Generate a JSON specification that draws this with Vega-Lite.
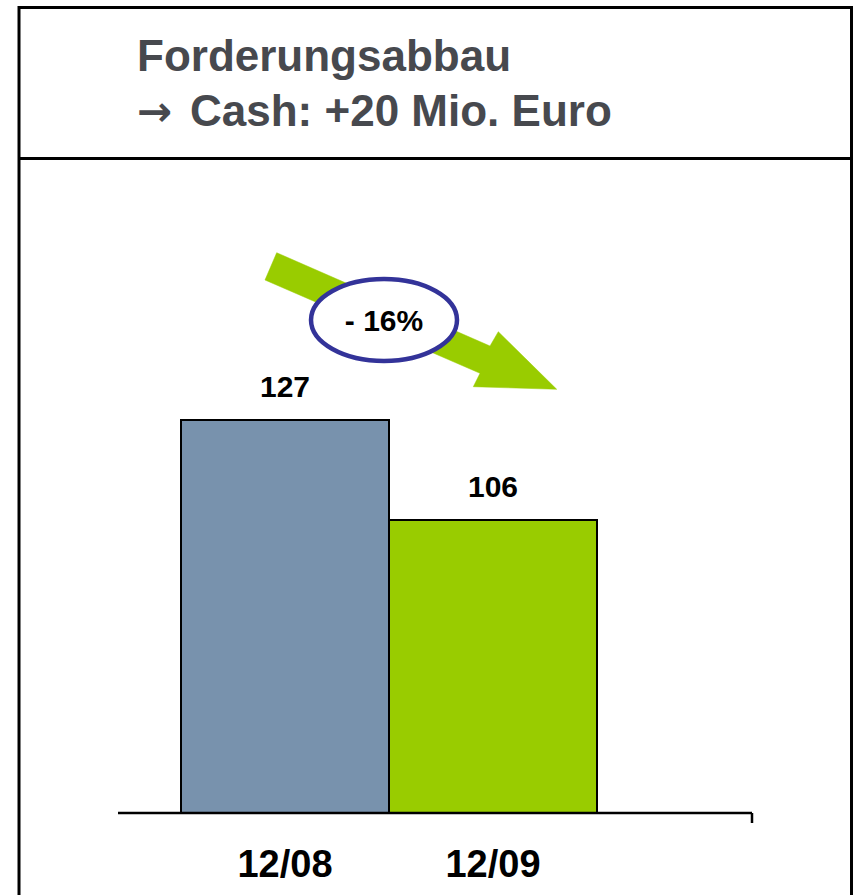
{
  "$schema": "https://vega.github.io/schema/vega-lite/v6.json",
  "width": 856,
  "height": 895,
  "padding": 0,
  "autosize": {"type": "none"},
  "background": "white",
  "config": {"view": {"stroke": null}},
  "layer": [
    {
      "data": {"values": [{}]},
      "mark": {"type": "rect", "fill": "transparent", "stroke": "#000000", "strokeWidth": 3},
      "encoding": {
        "x": {"datum": -0.2788, "type": "quantitative", "scale": {"domain": [-0.3702, 3.7452], "nice": false, "zero": false, "padding": 0}, "axis": null},
        "x2": {"datum": 3.7236},
        "y": {"datum": 213.63, "type": "quantitative", "scale": {"domain": [27.25, 215.2], "nice": false, "zero": false, "padding": 0}, "axis": null},
        "y2": {"datum": 10}
      }
    },
    {
      "data": {"values": [{}]},
      "mark": {"type": "rule", "stroke": "#000000", "strokeWidth": 3},
      "encoding": {
        "x": {"datum": -0.2788, "type": "quantitative"},
        "x2": {"datum": 3.7236},
        "y": {"datum": 181.92, "type": "quantitative"}
      }
    },
    {
      "data": {"values": [{}]},
      "mark": {"type": "text", "text": "Forderungsabbau", "align": "left", "baseline": "alphabetic", "font": "Liberation Sans", "fontWeight": "bold", "fontSize": 44, "color": "#47494e"},
      "encoding": {
        "x": {"datum": 0.2885, "type": "quantitative"},
        "y": {"datum": 200.3, "type": "quantitative"}
      }
    },
    {
      "data": {"values": [{}]},
      "mark": {"type": "text", "text": "→", "align": "left", "baseline": "alphabetic", "font": "DejaVu Sans", "fontWeight": "bold", "fontSize": 42, "color": "#47494e"},
      "encoding": {
        "x": {"datum": 0.2885, "type": "quantitative"},
        "y": {"datum": 188.7, "type": "quantitative"}
      }
    },
    {
      "data": {"values": [{}]},
      "mark": {"type": "text", "text": "Cash: +20 Mio. Euro", "align": "left", "baseline": "alphabetic", "font": "Liberation Sans", "fontWeight": "bold", "fontSize": 44, "color": "#47494e"},
      "encoding": {
        "x": {"datum": 0.5433, "type": "quantitative"},
        "y": {"datum": 188.7, "type": "quantitative"}
      }
    },
    {
      "data": {"values": [
        {"i": 1, "u": 0.9601, "v": 162.13},
        {"i": 2, "u": 1.9856, "v": 142.54},
        {"i": 3, "u": 2.0255, "v": 145.54},
        {"i": 4, "u": 2.3063, "v": 133.45},
        {"i": 5, "u": 1.9053, "v": 133.99},
        {"i": 6, "u": 1.9375, "v": 136.81},
        {"i": 7, "u": 0.9038, "v": 156.40}
      ]},
      "mark": {"type": "line", "interpolate": "linear-closed", "fill": "#99cc00", "stroke": "#99cc00", "strokeWidth": 0.5},
      "encoding": {
        "x": {"field": "u", "type": "quantitative"},
        "y": {"field": "v", "type": "quantitative"},
        "order": {"field": "i", "type": "quantitative"}
      }
    },
    {
      "data": {"values": [{"label": "- 16%"}]},
      "mark": {"type": "point", "shape": "M -1 0 A 1 0.5616 0 1 0 1 0 A 1 0.5616 0 1 0 -1 0 Z", "size": 21316, "filled": true, "fill": "#ffffff", "fillOpacity": 1, "opacity": 1, "stroke": "#333399", "strokeWidth": 4.5},
      "encoding": {
        "x": {"datum": 1.476, "type": "quantitative"},
        "y": {"datum": 148.0, "type": "quantitative"}
      }
    },
    {
      "data": {"values": [{"label": "- 16%"}]},
      "mark": {"type": "text", "align": "center", "baseline": "middle", "dy": 2, "font": "Liberation Sans", "fontWeight": "bold", "fontSize": 30, "color": "#000000"},
      "encoding": {
        "x": {"datum": 1.476, "type": "quantitative"},
        "y": {"datum": 148.0, "type": "quantitative"},
        "text": {"field": "label"}
      }
    },
    {
      "data": {"name": "main", "values": [
        {"period": "12/08", "idx": 1, "value": 127},
        {"period": "12/09", "idx": 2, "value": 106}
      ]},
      "layer": [
        {
          "mark": {"type": "bar", "width": 208, "stroke": "#000000", "strokeWidth": 2},
          "encoding": {
            "x": {"field": "idx", "type": "quantitative"},
            "y": {"field": "value", "type": "quantitative"},
            "y2": {"datum": 44.47},
            "color": {"field": "period", "type": "nominal", "scale": {"domain": ["12/08", "12/09"], "range": ["#7892ad", "#99cc00"]}, "legend": null}
          }
        },
        {
          "mark": {"type": "text", "align": "center", "baseline": "alphabetic", "dy": -23, "font": "Liberation Sans", "fontWeight": "bold", "fontSize": 30, "color": "#000000"},
          "encoding": {
            "x": {"field": "idx", "type": "quantitative"},
            "y": {"field": "value", "type": "quantitative"},
            "text": {"field": "value", "type": "quantitative"}
          }
        },
        {
          "mark": {"type": "text", "align": "center", "baseline": "alphabetic", "dy": 64, "font": "Liberation Sans", "fontWeight": "bold", "fontSize": 38, "color": "#000000"},
          "encoding": {
            "x": {"field": "idx", "type": "quantitative"},
            "y": {"datum": 44.47, "type": "quantitative"},
            "text": {"field": "period", "type": "nominal"}
          }
        }
      ]
    },
    {
      "data": {"values": [{}]},
      "mark": {"type": "rule", "stroke": "#000000", "strokeWidth": 2.5},
      "encoding": {
        "x": {"datum": 0.1971, "type": "quantitative"},
        "x2": {"datum": 3.2452},
        "y": {"datum": 44.47, "type": "quantitative"}
      }
    },
    {
      "data": {"values": [{}]},
      "mark": {"type": "rule", "stroke": "#000000", "strokeWidth": 2.5},
      "encoding": {
        "x": {"datum": 3.2452, "type": "quantitative"},
        "y": {"datum": 44.47, "type": "quantitative"},
        "y2": {"datum": 42.37}
      }
    }
  ]
}
